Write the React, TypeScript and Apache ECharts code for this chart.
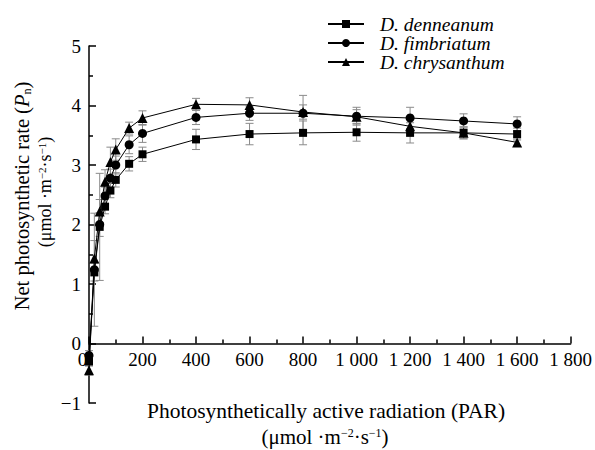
import React, { useEffect, useRef } from "react";
import * as echarts from "echarts";

const par = [0, 20, 40, 60, 80, 100, 150, 200, 400, 600, 800, 1000, 1200, 1400, 1600];
const denneanum = [-0.3, 1.2, 1.96, 2.3, 2.57, 2.75, 3.02, 3.18, 3.43, 3.52, 3.54, 3.55, 3.54, 3.54, 3.52];
const fimbriatum = [-0.2, 1.24, 2.0, 2.48, 2.78, 3.0, 3.34, 3.53, 3.8, 3.87, 3.87, 3.82, 3.79, 3.74, 3.69];
const chrysanthum = [-0.45, 1.43, 2.22, 2.72, 3.05, 3.26, 3.62, 3.79, 4.02, 4.01, 3.89, 3.81, 3.65, 3.54, 3.38];
const denneanumErr = [0.08, 0.15, 0.9, 0.12, 0.12, 0.12, 0.12, 0.12, 0.17, 0.18, 0.2, 0.15, 0.17, 0.1, 0.1];
const fimbriatumErr = [0.08, 0.95, 0.2, 0.15, 0.15, 0.15, 0.15, 0.15, 0.12, 0.12, 0.3, 0.15, 0.18, 0.12, 0.12];
const chrysanthumErr = [0.08, 0.3, 0.2, 0.2, 0.25, 0.18, 0.1, 0.12, 0.1, 0.12, 0.12, 0.12, 0.12, 0.1, 0.06];
const seriesNames = ["D. denneanum", "D. fimbriatum", "D. chrysanthum"];
const xTicks = { min: 0, max: 1800, interval: 200 };
const yTicks = { min: -1, max: 5, interval: 1 };

const FONT = "'Liberation Serif', 'Times New Roman', serif";
const GRID = { left: 89, right: 24, top: 46, bottom: 47 };
const H = 450;

export default function App() {
  const ref = useRef<HTMLDivElement>(null);
  useEffect(() => {
    document.body.style.margin = "0";
    if (!ref.current) return;
    const chart = echarts.init(ref.current, null, { renderer: "svg" });
    const groups = [
      { name: seriesNames[0], vals: denneanum, err: denneanumErr, symbol: "rect", size: 8 },
      { name: seriesNames[1], vals: fimbriatum, err: fimbriatumErr, symbol: "circle", size: 9 },
      { name: seriesNames[2], vals: chrysanthum, err: chrysanthumErr, symbol: "triangle", size: 10 },
    ];
    const errSeries = groups.map((g) => ({
      type: "custom",
      name: g.name + " err",
      z: 1,
      silent: true,
      data: par.map((x, i) => [x, g.vals[i], g.err[i]]),
      encode: { x: 0, y: 1 },
      renderItem: (params: any, api: any) => {
        const x = api.value(0);
        const y = api.value(1);
        const e = api.value(2);
        const top = api.coord([x, y + e]);
        const bot = api.coord([x, y - e]);
        const w = 4;
        const st = { stroke: "#8a8a8a", lineWidth: 1 };
        return {
          type: "group",
          children: [
            { type: "line", shape: { x1: top[0], y1: top[1], x2: bot[0], y2: bot[1] }, style: st },
            { type: "line", shape: { x1: top[0] - w, y1: top[1], x2: top[0] + w, y2: top[1] }, style: st },
            { type: "line", shape: { x1: bot[0] - w, y1: bot[1], x2: bot[0] + w, y2: bot[1] }, style: st },
          ],
        };
      },
    }));
    const lineSeries = groups.map((g) => ({
      type: "line",
      name: g.name,
      z: 3,
      data: par.map((x, i) => [x, g.vals[i]]),
      symbol: g.symbol,
      symbolSize: g.size,
      showAllSymbol: true,
      itemStyle: { color: "#000" },
      lineStyle: { color: "#000", width: 1 },
    }));
    // x axis sits on y = 0: shift it up from the grid bottom by the distance of 0 from min
    const plotH = H - GRID.top - GRID.bottom;
    const zeroOffset = ((0 - yTicks.min) / (yTicks.max - yTicks.min)) * plotH;
    const sup = { fontSize: 12, verticalAlign: "top", fontFamily: FONT, fill: "#000" };
    const option: any = {
      animation: false,
      textStyle: { fontFamily: FONT },
      grid: { ...GRID, containLabel: false },
      legend: {
        data: seriesNames,
        orient: "vertical",
        left: 322,
        top: 9,
        itemWidth: 36,
        itemHeight: 10,
        itemGap: -1,
        textStyle: { fontFamily: FONT, fontStyle: "italic", fontSize: 19.5, color: "#000", padding: [0, 0, 0, 11] },
      },
      xAxis: {
        type: "value",
        min: xTicks.min,
        max: xTicks.max,
        interval: xTicks.interval,
        offset: -zeroOffset,
        axisLine: { show: true, onZero: false, lineStyle: { color: "#000", width: 1.5 } },
        axisTick: { show: true, inside: true, length: 7, lineStyle: { color: "#000", width: 1.5 } },
        minorTick: { show: true, splitNumber: 2, length: 4, lineStyle: { color: "#000", width: 1.5 } },
        splitLine: { show: false },
        axisLabel: {
          fontSize: 19,
          color: "#000",
          margin: 6,
          fontFamily: FONT,
          formatter: (v: number) =>
            v === 0 ? "{z|0}" : v >= 1000 ? Math.floor(v / 1000) + " " + String(v).slice(-3) : String(v),
          rich: { z: { fontSize: 19, fontFamily: FONT, padding: [0, 13, 0, 0] } },
        },
      },
      yAxis: {
        type: "value",
        min: yTicks.min,
        max: yTicks.max,
        interval: yTicks.interval,
        axisLine: { show: true, lineStyle: { color: "#000", width: 1.5 } },
        axisTick: { show: true, inside: true, length: 7, lineStyle: { color: "#000", width: 1.5 } },
        minorTick: { show: true, splitNumber: 2, length: 4, lineStyle: { color: "#000", width: 1.5 } },
        splitLine: { show: false },
        axisLabel: {
          fontSize: 19,
          color: "#000",
          margin: 8,
          fontFamily: FONT,
          formatter: (v: number) => (v < 0 ? "\u2212" + Math.abs(v) : String(v)),
        },
      },
      graphic: [
        {
          type: "text",
          x: 22,
          y: 196,
          rotation: Math.PI / 2,
          style: {
            text: "{a|Net photosynthetic rate (}{i|P}{s|n}{a|)}",
            align: "center",
            verticalAlign: "middle",
            rich: {
              a: { fontSize: 20.5, fontFamily: FONT, fill: "#000" },
              i: { fontSize: 20.5, fontFamily: FONT, fontStyle: "italic", fill: "#000" },
              s: { fontSize: 12, fontFamily: FONT, verticalAlign: "bottom", fill: "#000" },
            },
          },
        },
        {
          type: "text",
          x: 45,
          y: 192,
          rotation: Math.PI / 2,
          style: {
            text: "{a|(\u03bcmol \u00b7m}{u|\u22122}{a|\u00b7s}{u|\u22121}{a|)}",
            align: "center",
            verticalAlign: "middle",
            rich: {
              a: { fontSize: 18, fontFamily: FONT, fill: "#000" },
              u: { ...sup, fontSize: 11 },
            },
          },
        },
        {
          type: "text",
          x: 326,
          y: 411,
          style: {
            text: "Photosynthetically active radiation (PAR)",
            align: "center",
            verticalAlign: "middle",
            fontSize: 21.5,
            fontFamily: FONT,
            fill: "#000",
          },
        },
        {
          type: "text",
          x: 325,
          y: 437,
          style: {
            text: "{a|(\u03bcmol \u00b7m}{u|\u22122}{a|\u00b7s}{u|\u22121}{a|)}",
            align: "center",
            verticalAlign: "middle",
            rich: {
              a: { fontSize: 21, fontFamily: FONT, fill: "#000" },
              u: sup,
            },
          },
        },
      ],
      series: [...errSeries, ...lineSeries],
    };
    chart.setOption(option);
    return () => chart.dispose();
  }, []);
  return <div ref={ref} style={{ width: 595, height: 450 }} />;
}
